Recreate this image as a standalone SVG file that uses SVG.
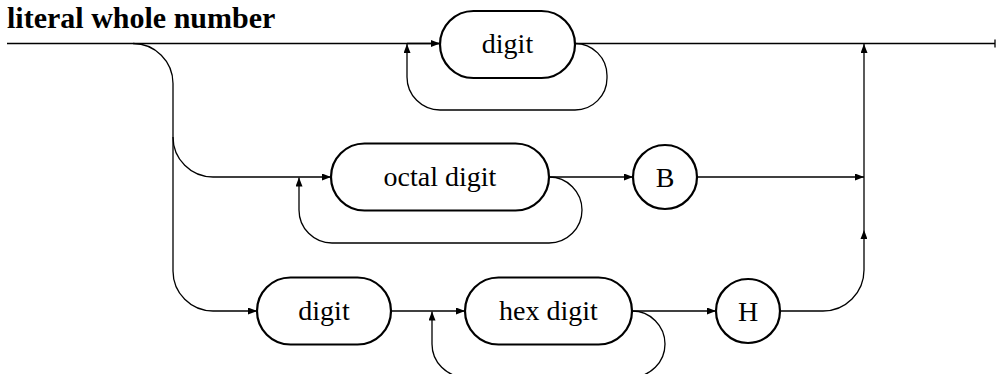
<svg xmlns="http://www.w3.org/2000/svg" width="996" height="374" viewBox="0 0 996 374">
<style>
.line{fill:none;stroke:#000;stroke-width:1.3}
.node{fill:#fff;stroke:#000;stroke-width:2.2}
.lbl{font-family:"Liberation Serif","Times New Roman",serif;font-size:28px;fill:#000;text-anchor:middle}
.title{font-family:"Liberation Serif","Times New Roman",serif;font-size:30px;font-weight:bold;fill:#000}
</style>
<defs>
<marker id="ah" markerUnits="userSpaceOnUse" markerWidth="9" markerHeight="7" refX="9" refY="3.5" orient="auto">
<path d="M0,0 L9,3.5 L0,7 z" fill="#000"/>
</marker>
</defs>
<text class="title" x="7" y="28">literal whole number</text>
<g id="connectors">
<path class="line" d="M7,43.5 H995"/>
<path class="line" d="M995,39.5 V47.5"/>
<path class="line" d="M407,43.5 H440" marker-end="url(#ah)"/>
<path class="line" d="M575,43.5 A32,32 0 0 1 607,75.5 V78 A32,32 0 0 1 575,110 H440 A33,33 0 0 1 407,77 V44" marker-end="url(#ah)"/>
<path class="line" d="M133,43.5 A40,40 0 0 1 173,83.5 V137 A40,40 0 0 0 213,177 H331" marker-end="url(#ah)"/>
<path class="line" d="M173,137 V271 A40,40 0 0 0 213,311 H257" marker-end="url(#ah)"/>
<path class="line" d="M549,177 A33,33 0 0 1 582,210 A33,33 0 0 1 549,243 H332 A33,33 0 0 1 299,210 V177.5" marker-end="url(#ah)"/>
<path class="line" d="M549,177 H633" marker-end="url(#ah)"/>
<path class="line" d="M697,177 H864" marker-end="url(#ah)"/>
<path class="line" d="M391,311 H465" marker-end="url(#ah)"/>
<path class="line" d="M632,311 A33,33 0 0 1 665,344 A33,33 0 0 1 632,377 H465 A33,33 0 0 1 432,344 V311.5" marker-end="url(#ah)"/>
<path class="line" d="M632,311 H716" marker-end="url(#ah)"/>
<path class="line" d="M780,311 H823 A41,41 0 0 0 864,270 V230" marker-end="url(#ah)"/>
<path class="line" d="M864,230 V44" marker-end="url(#ah)"/>
</g>
<g id="n-digit1">
<rect class="node" x="440" y="11" width="135" height="67" rx="33.5"/>
<text class="lbl" x="507.5" y="53">digit</text>
</g>
<g id="n-octal">
<rect class="node" x="331" y="143.5" width="218" height="67" rx="33.5"/>
<text class="lbl" x="440" y="186">octal digit</text>
</g>
<g id="n-B">
<circle class="node" cx="665" cy="177" r="32"/>
<text class="lbl" x="665" y="187">B</text>
</g>
<g id="n-digit2">
<rect class="node" x="257" y="277.5" width="134" height="67" rx="33.5"/>
<text class="lbl" x="324" y="320">digit</text>
</g>
<g id="n-hex">
<rect class="node" x="465" y="277.5" width="167" height="67" rx="33.5"/>
<text class="lbl" x="548.5" y="320">hex digit</text>
</g>
<g id="n-H">
<circle class="node" cx="748" cy="311" r="32"/>
<text class="lbl" x="748" y="321">H</text>
</g>
</svg>
